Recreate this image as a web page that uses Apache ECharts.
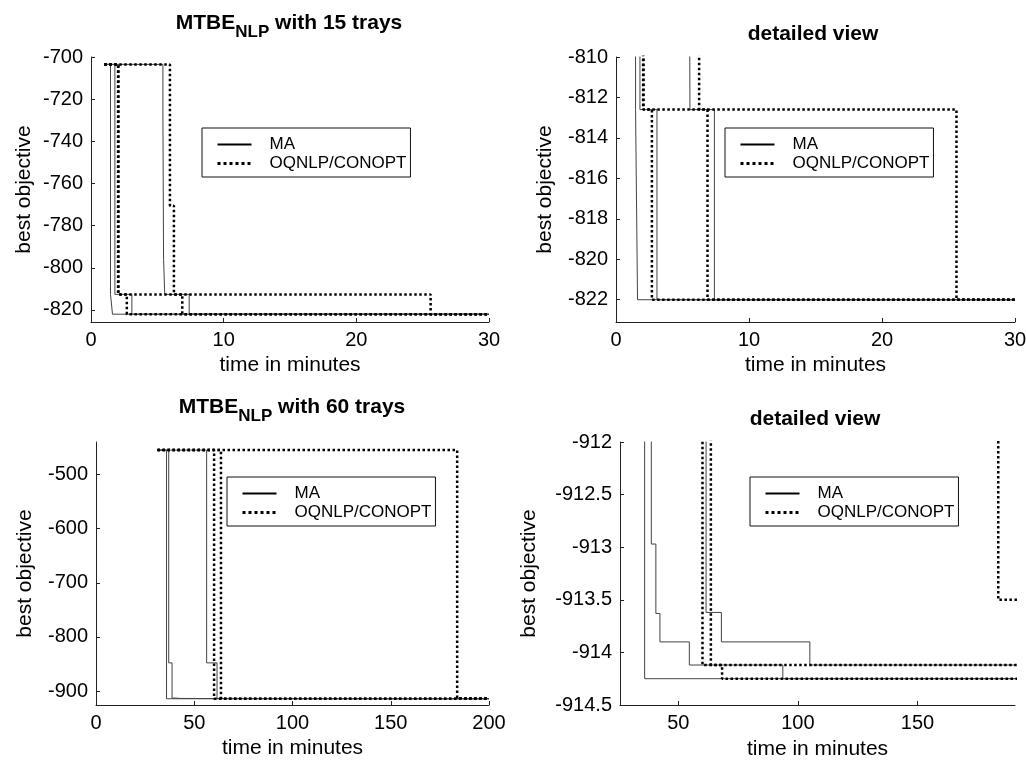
<!DOCTYPE html>
<html>
<head>
<meta charset="utf-8">
<script src="https://cdn.jsdelivr.net/npm/echarts@6/dist/echarts.min.js"></script>
<style>
  html, body { margin: 0; padding: 0; background: #fff; }
  #main { width: 1026px; height: 760px; }
</style>
</head>
<body>
<div id="main"></div>
<script>
// MTBE_NLP with 15 trays: time of each improvement (min) and best objective after it
var ma15a_t = [1.0, 1.47, 1.62, 30];
var ma15a_v = [-703.5, -812.6, -822, -822];
var ma15b_t = [1.0, 1.8, 3.08, 30];
var ma15b_v = [-703.5, -812.6, -822, -822];
var ma15c_t = [1.0, 5.42, 5.47, 5.56, 7.4, 30];
var ma15c_v = [-703.5, -726, -796, -812.6, -822, -822];
var oq15a_t = [1.0, 2.04, 2.7, 30];
var oq15a_v = [-703.5, -812.6, -822, -822];
var oq15b_t = [1.0, 5.95, 6.25, 6.88, 30];
var oq15b_v = [-703.5, -770.5, -812.6, -822, -822];
var oq15c_t = [1.0, 2.07, 25.6, 30];
var oq15c_v = [-703.5, -812.6, -822, -822];

// MTBE_NLP with 60 trays
var ma60a_t = [31.3, 35.9, 200];
var ma60a_v = [-455, -914.25, -914.25];
var ma60b_t = [31.3, 37.0, 38.7, 40.6, 42.3, 54.6, 93.7, 200];
var ma60b_v = [-455, -848, -912.97, -913.63, -913.9, -914.12, -914.25, -914.25];
var ma60c_t = [31.3, 56.3, 61.6, 68.0, 105, 200];
var ma60c_v = [-455, -848, -913.62, -913.9, -914.12, -914.12];
var oq60a_t = [31.3, 60.1, 200];
var oq60a_v = [-455, -914.12, -914.12];
var oq60b_t = [31.3, 63.6, 68.3, 200];
var oq60b_v = [-455, -914.12, -914.25, -914.25];
var oq60c_t = [31.3, 183.8, 200];
var oq60c_v = [-455, -913.5, -913.5];

// tick labels
var y15Ticks = [-820, -800, -780, -760, -740, -720, -700];
var y15dTicks = [-822, -820, -818, -816, -814, -812, -810];
var y60Ticks = [-900, -800, -700, -600, -500];
var x60dTicks = [50, 100, 150];

var font = 'Liberation Sans, Arial, sans-serif';

function run(name, t, v, ax) {
  return {
    name: name,
    type: 'line',
    xAxisIndex: ax,
    yAxisIndex: ax,
    step: 'end',
    symbol: 'none',
    clip: true,
    silent: true,
    lineStyle: name === 'MA'
      ? { color: '#444', width: 1 }
      : { color: '#000', width: 2.5, type: 'dotted' },
    data: t.map(function (x, i) { return [x, v[i]]; })
  };
}

function axis(extra) {
  var a = {
    type: 'value',
    splitLine: { show: false },
    axisLine: { lineStyle: { color: '#222', width: 1 } },
    axisTick: { inside: true, length: 4, lineStyle: { color: '#222' } },
    axisLabel: { color: '#000', fontSize: 20, fontFamily: font, margin: 8 },
    nameLocation: 'middle',
    nameTextStyle: { color: '#000', fontSize: 21, fontFamily: font }
  };
  for (var k in extra) a[k] = extra[k];
  return a;
}

function titleOf(text, x, y) {
  return {
    text: text, left: x, top: y, textAlign: 'center', padding: 0,
    textStyle: {
      rich: {
        a: { fontSize: 21, fontWeight: 'bold', fontFamily: font, color: '#000', lineHeight: 36 },
        b: { fontSize: 17, fontWeight: 'bold', fontFamily: font, color: '#000', verticalAlign: 'bottom' }
      }
    }
  };
}

function legendAt(x, y) {
  return {
    left: x, top: y, orient: 'vertical', selectedMode: false,
    borderColor: '#111', borderWidth: 1, padding: [8, 4, 5, 14],
    itemWidth: 34, itemHeight: 14, itemGap: 2,
    textStyle: { color: '#000', fontSize: 17, fontFamily: font, padding: [0, 0, 0, 13] },
    data: [
      { name: 'MA', lineStyle: { color: '#000', width: 2, type: 'solid' }, itemStyle: { opacity: 0 } },
      { name: 'OQNLP/CONOPT', lineStyle: { color: '#000', width: 3, type: 'dotted' }, itemStyle: { opacity: 0 } }
    ]
  };
}

var series = [];
[0, 1].forEach(function (ax) {
  series.push(run('MA', ma15a_t, ma15a_v, ax));
  series.push(run('MA', ma15b_t, ma15b_v, ax));
  series.push(run('MA', ma15c_t, ma15c_v, ax));
  series.push(run('OQNLP/CONOPT', oq15a_t, oq15a_v, ax));
  series.push(run('OQNLP/CONOPT', oq15b_t, oq15b_v, ax));
  series.push(run('OQNLP/CONOPT', oq15c_t, oq15c_v, ax));
});
[2, 3].forEach(function (ax) {
  series.push(run('MA', ma60a_t, ma60a_v, ax));
  series.push(run('MA', ma60b_t, ma60b_v, ax));
  series.push(run('MA', ma60c_t, ma60c_v, ax));
  series.push(run('OQNLP/CONOPT', oq60a_t, oq60a_v, ax));
  series.push(run('OQNLP/CONOPT', oq60b_t, oq60b_v, ax));
  series.push(run('OQNLP/CONOPT', oq60c_t, oq60c_v, ax));
});

var option = {
  animation: false,
  backgroundColor: '#fff',
  title: [
    titleOf('{a|MTBE}{b|NLP}{a| with 15 trays}', 289, 5),
    titleOf('{a|detailed view}', 813, 16),
    titleOf('{a|MTBE}{b|NLP}{a| with 60 trays}', 292, 389),
    titleOf('{a|detailed view}', 815, 401)
  ],
  legend: [legendAt(202, 128), legendAt(725, 128), legendAt(227, 477), legendAt(750, 477)],
  grid: [
    { left: 91, top: 57, width: 398, height: 265, outerBoundsMode: 'none' },
    { left: 616, top: 57, width: 399, height: 265, outerBoundsMode: 'none' },
    { left: 96, top: 442, width: 393, height: 263, outerBoundsMode: 'none' },
    { left: 620, top: 442, width: 395, height: 263, outerBoundsMode: 'none' }
  ],
  xAxis: [
    axis({ gridIndex: 0, min: 0, max: 30, interval: 10, name: 'time in minutes', nameGap: 33 }),
    axis({ gridIndex: 1, min: 0, max: 30, interval: 10, name: 'time in minutes', nameGap: 33 }),
    axis({ gridIndex: 2, min: 0, max: 200, interval: 50, name: 'time in minutes', nameGap: 33 }),
    axis({ gridIndex: 3, min: 25.6, max: 190.8, name: 'time in minutes', nameGap: 34,
      axisLabel: { color: '#000', fontSize: 20, fontFamily: font, margin: 8, customValues: x60dTicks },
      axisTick: { inside: true, length: 4, lineStyle: { color: '#222' }, customValues: x60dTicks } })
  ],
  yAxis: [
    axis({ gridIndex: 0, min: -825.7, max: -700, name: 'best objective', nameGap: 56,
      axisLabel: { color: '#000', fontSize: 20, fontFamily: font, margin: 8, customValues: y15Ticks },
      axisTick: { inside: true, length: 4, lineStyle: { color: '#222' }, customValues: y15Ticks } }),
    axis({ gridIndex: 1, min: -823.1, max: -810, name: 'best objective', nameGap: 60,
      axisLabel: { color: '#000', fontSize: 20, fontFamily: font, margin: 8, customValues: y15dTicks },
      axisTick: { inside: true, length: 4, lineStyle: { color: '#222' }, customValues: y15dTicks } }),
    axis({ gridIndex: 2, min: -925.8, max: -440, name: 'best objective', nameGap: 60,
      axisLabel: { color: '#000', fontSize: 20, fontFamily: font, margin: 8, customValues: y60Ticks },
      axisTick: { inside: true, length: 4, lineStyle: { color: '#222' }, customValues: y60Ticks } }),
    axis({ gridIndex: 3, min: -914.5, max: -912, interval: 0.5, name: 'best objective', nameGap: 80 })
  ],
  series: series
};

var chart = echarts.init(document.getElementById('main'), null, { renderer: 'canvas' });
chart.setOption(option);
</script>
</body>
</html>
